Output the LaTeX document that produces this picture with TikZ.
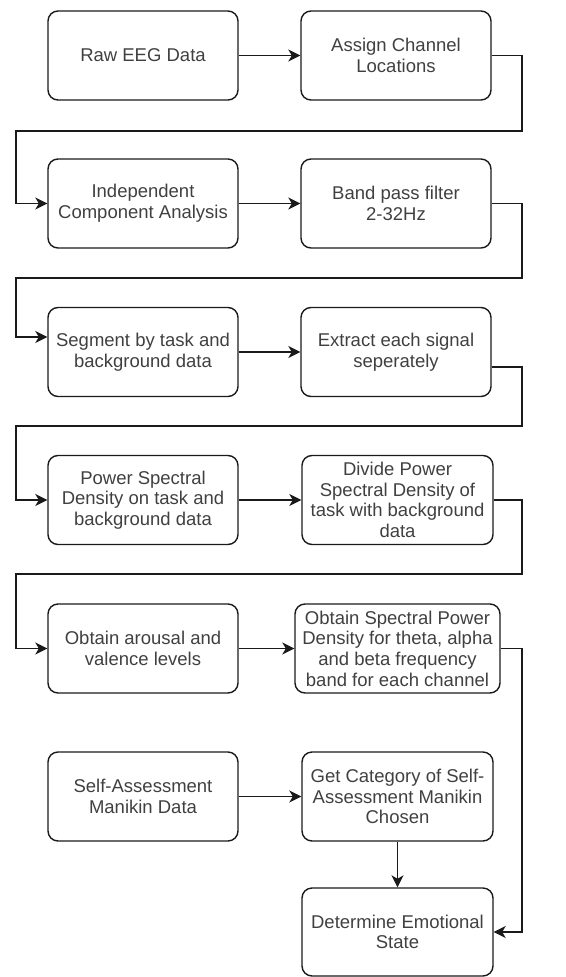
\documentclass[tikz,border=0pt]{standalone}
\usepackage{fontspec}
\setmainfont{Liberation Sans}
\usetikzlibrary{arrows.meta,calc}
\definecolor{txt}{HTML}{404040}
\definecolor{ln}{HTML}{1A1A1A}
\begin{document}
\begin{tikzpicture}[x=1pt,y=-1pt,
  box/.style={draw=ln,line width=1.4pt,rounded corners=10pt,minimum width=190pt,minimum height=89pt,
    inner sep=0pt,align=center,text=txt,font=\fontsize{18.5}{20.6}\selectfont},
  conn/.style={draw=ln,line width=1.4pt,-{Stealth[length=12pt,width=12pt,inset=3.5pt]}}]
\useasboundingbox (0,0) rectangle (565,977);
\node[box] (raw) at (143,55.5) {Raw EEG Data};
\node[box] (assign) at (396,55.5) {Assign Channel\\Locations};
\node[box] (ica) at (143,203.5) {Independent\\Component Analysis};
\node[box] (bpf) at (396,203.5) {Band pass filter\\2-32Hz};
\node[box] (seg) at (143,352) {Segment by task and\\background data};
\node[box] (ext) at (396,352) {Extract each signal\\seperately};
\node[box] (psd) at (143,500) {Power Spectral\\Density on task and\\background data};
\node[box,minimum width=191pt] (div) at (397.5,500) {Divide Power\\Spectral Density of\\task with background\\data};
\node[box] (obt) at (143,648.5) {Obtain arousal and\\valence levels};
\node[box,minimum width=205pt] (spec) at (397.5,648.5) {Obtain Spectral Power\\Density for theta, alpha\\and beta frequency\\band for each channel};
\node[box] (sam) at (143,796.5) {Self-Assessment\\Manikin Data};
\node[box,minimum width=191pt] (cat) at (397.5,796.5) {Get Category of Self-\\Assessment Manikin\\Chosen};
\node[box,minimum width=191pt,minimum height=88pt] (det) at (397.5,932) {Determine Emotional\\State};

\coordinate (r1) at (522,131);
\coordinate (l1) at (16,131);
\coordinate (r2) at (522,278);
\coordinate (l2) at (16,278);
\coordinate (r3) at (522,426);
\coordinate (l3) at (16,426);
\coordinate (r4) at (522,574);
\coordinate (l4) at (16,574);
\coordinate (r5) at (522,700);

\draw[conn] (raw) -- (assign);
\draw[conn] (assign.east) -| (r1) -- (l1) |- (ica.west);
\draw[conn] (ica) -- (bpf);
\draw[conn] (bpf.east) -| (r2) -- (l2) |- ($(seg.west)+(0,-15)$);
\draw[conn] (seg) -- (ext);
\draw[conn] ($(ext.east)+(0,15)$) -| (r3) -- (l3) |- (psd.west);
\draw[conn] (psd) -- (div);
\draw[conn] (div.east) -| (r4) -- (l4) |- (obt.west);
\draw[conn] (obt) -- (spec);
\draw[conn] (spec.east) -| (r5) |- (det.east);
\draw[conn] (sam) -- (cat);
\draw[conn] (cat) -- (det);
\end{tikzpicture}
\end{document}
